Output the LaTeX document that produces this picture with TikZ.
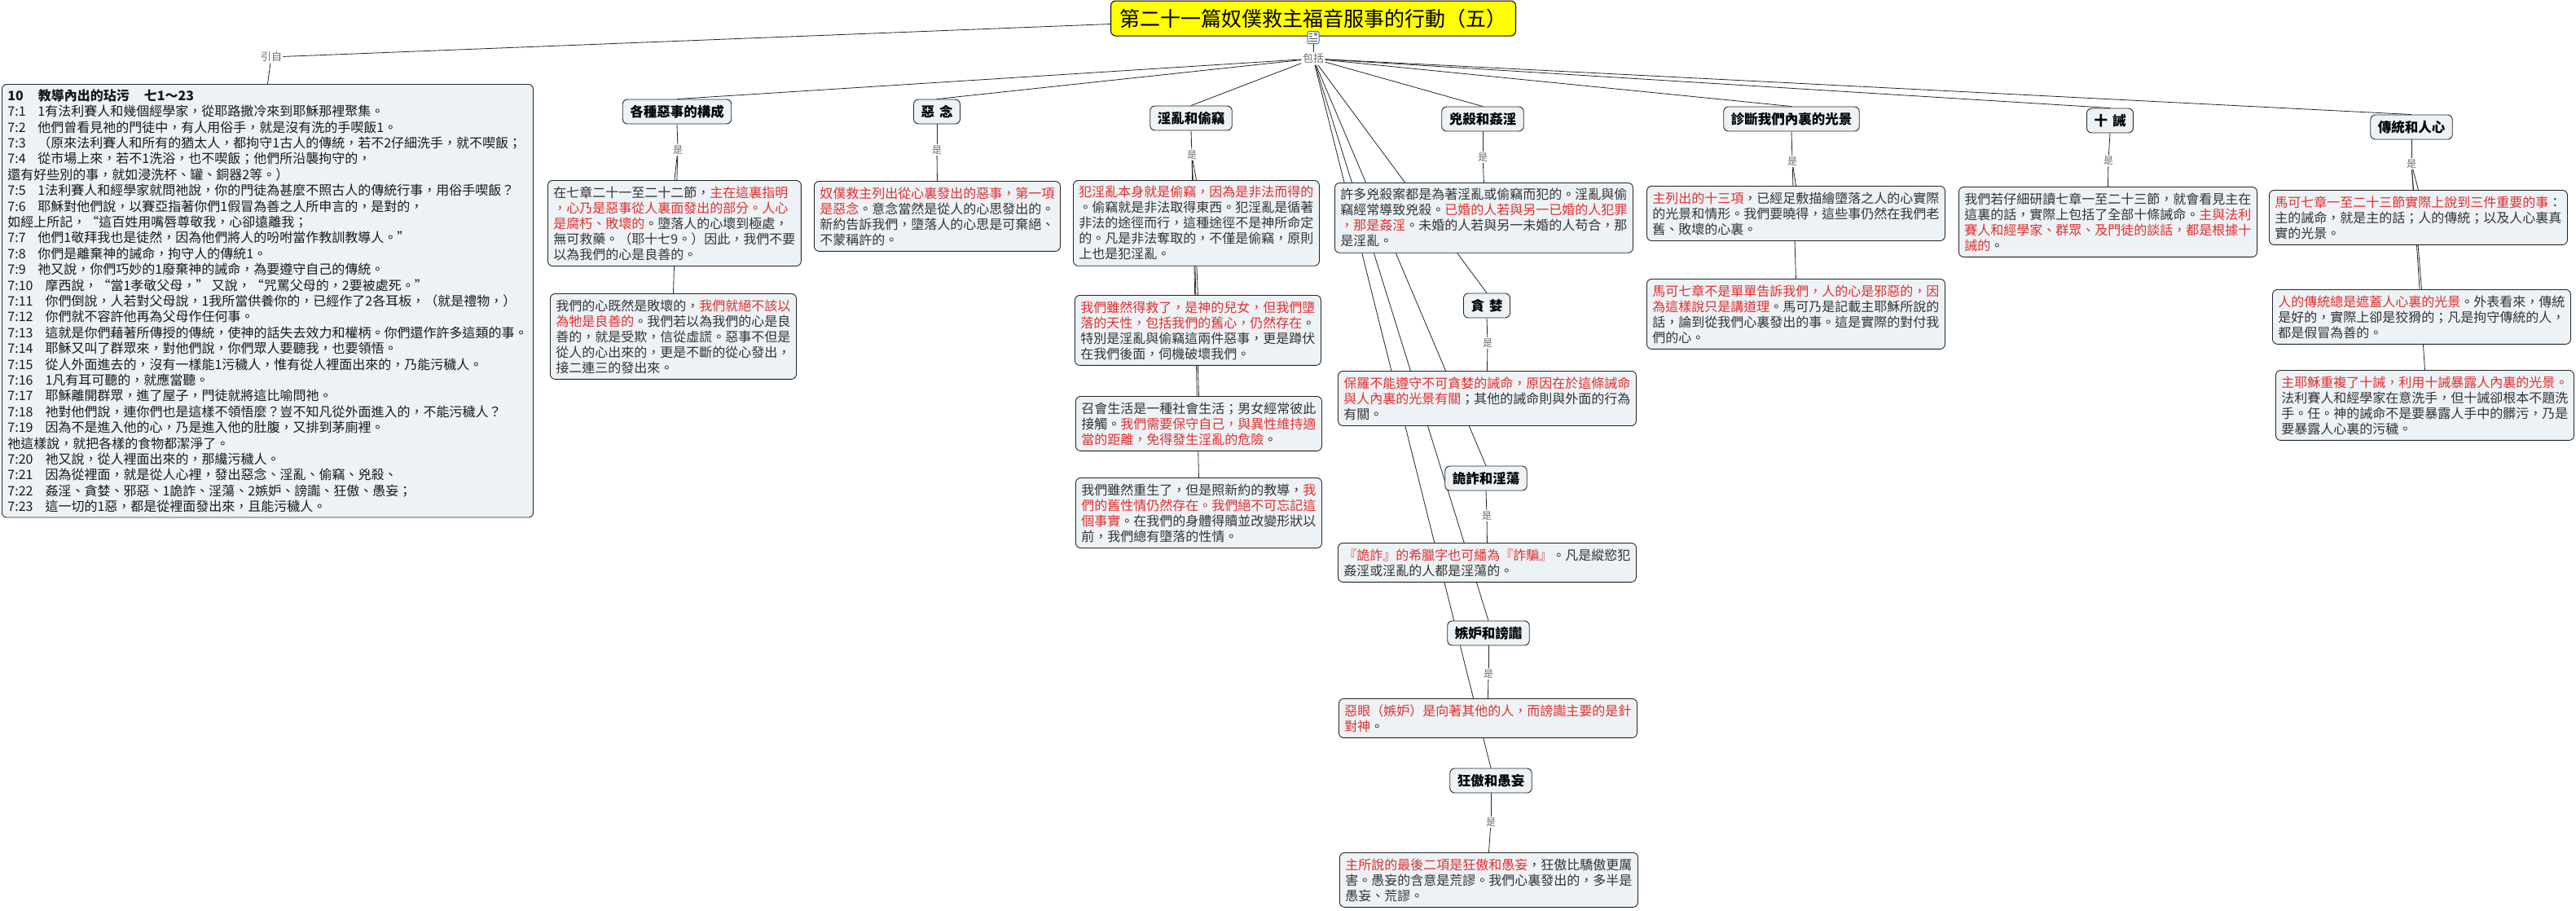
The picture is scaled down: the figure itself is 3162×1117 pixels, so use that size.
\documentclass[tikz,border=0pt]{standalone}
\usepackage{fontspec}
\setmainfont{Noto Sans CJK TC}
\usetikzlibrary{backgrounds}
\definecolor{boxfill}{RGB}{236,242,245}
\definecolor{redtxt}{RGB}{226,46,46}
\definecolor{txt}{RGB}{51,51,51}
\definecolor{lblgray}{RGB}{110,110,110}
\definecolor{titleyellow}{RGB}{255,255,0}
\definecolor{iconblue}{RGB}{60,110,190}
\newcommand{\rd}[1]{\textcolor{redtxt}{#1}}
\newcommand{\vs}[1]{\makebox[0pt][l]{#1}\hspace{37pt}}
\newcommand{\vt}[1]{#1\hspace{15pt}}
\tikzset{
  box/.style={draw=black!85, line width=0.9pt, rounded corners=6pt, fill=boxfill, align=left,
    inner xsep=7pt, inner ysep=7pt, font=\fontsize{16}{19}\selectfont, text=txt, anchor=north west},
  hdr/.style={draw=black!85, line width=0.9pt, rounded corners=6pt, fill=boxfill,
    font=\fontsize{16.5}{19}\selectfont\bfseries, text=black, inner xsep=9pt, minimum height=30pt},
  lbl/.style={font=\fontsize{12}{14}\selectfont, text=lblgray, inner sep=1.5pt},
  conn/.style={draw=black!85, line width=0.8pt},
}
\begin{document}
\begin{tikzpicture}[x=1pt,y=-1pt]
\useasboundingbox (0,0) rectangle (3162,1117);
% title and hub
\node[draw=black, line width=1pt, rounded corners=6pt, fill=titleyellow, font=\fontsize{25}{28}\selectfont,
  minimum height=43pt, inner xsep=11pt] (title) at (1612,22.5) {第二十一篇奴僕救主福音服事的行動（五）};
\node[draw=iconblue, line width=1pt, fill=white, rounded corners=2pt, minimum width=14pt, minimum height=15pt, inner sep=0pt] (icon) at (1612,46) {};
\fill[iconblue!70] (1613,40) rectangle (1617,44);
\draw[black!70, line width=0.7pt] (1607,41)--(1611,41) (1607,44)--(1611,44) (1607,47)--(1617,47) (1607,50)--(1617,50);
\node[lbl, font=\fontsize{13}{15}\selectfont] (bk) at (1612,72) {包括};
\node[lbl, font=\fontsize{13}{15}\selectfont] (yz) at (333,70) {引自};

% left scripture box
\node[box, inner ysep=6pt, font=\fontsize{16}{19.4}\selectfont, text=black!90, minimum width=649pt] (lbox) at (2,103) {%
\textbf{10\hspace{18pt}教導內出的玷污\hspace{18pt}七1～23}\\
\vs{7:1}1有法利賽人和幾個經學家，從耶路撒冷來到耶穌那裡聚集。\\
\vs{7:2}他們曾看見祂的門徒中，有人用俗手，就是沒有洗的手喫飯1。\\
\vs{7:3}（原來法利賽人和所有的猶太人，都拘守1古人的傳統，若不2仔細洗手，就不喫飯；\\
\vs{7:4}從市場上來，若不1洗浴，也不喫飯；他們所沿襲拘守的，\\
還有好些別的事，就如浸洗杯、罐、銅器2等。）\\
\vs{7:5}1法利賽人和經學家就問祂說，你的門徒為甚麼不照古人的傳統行事，用俗手喫飯？\\
\vs{7:6}耶穌對他們說，以賽亞指著你們1假冒為善之人所申言的，是對的，\\
如經上所記，“這百姓用嘴唇尊敬我，心卻遠離我；\\
\vs{7:7}他們1敬拜我也是徒然，因為他們將人的吩咐當作教訓教導人。”\\
\vs{7:8}你們是離棄神的誡命，拘守人的傳統1。\\
\vs{7:9}祂又說，你們巧妙的1廢棄神的誡命，為要遵守自己的傳統。\\
\vt{7:10}摩西說，“當1孝敬父母，” 又說，“咒罵父母的，2要被處死。”\\
\vt{7:11}你們倒說，人若對父母說，1我所當供養你的，已經作了2各耳板，（就是禮物，）\\
\vt{7:12}你們就不容許他再為父母作任何事。\\
\vt{7:13}這就是你們藉著所傳授的傳統，使神的話失去效力和權柄。你們還作許多這類的事。\\
\vt{7:14}耶穌又叫了群眾來，對他們說，你們眾人要聽我，也要領悟。\\
\vt{7:15}從人外面進去的，沒有一樣能1污穢人，惟有從人裡面出來的，乃能污穢人。\\
\vt{7:16}1凡有耳可聽的，就應當聽。\\
\vt{7:17}耶穌離開群眾，進了屋子，門徒就將這比喻問祂。\\
\vt{7:18}祂對他們說，連你們也是這樣不領悟麼？豈不知凡從外面進入的，不能污穢人？\\
\vt{7:19}因為不是進入他的心，乃是進入他的肚腹，又排到茅廁裡。\\
祂這樣說，就把各樣的食物都潔淨了。\\
\vt{7:20}祂又說，從人裡面出來的，那纔污穢人。\\
\vt{7:21}因為從裡面，就是從人心裡，發出惡念、淫亂、偷竊、兇殺、\\
\vt{7:22}姦淫、貪婪、邪惡、1詭詐、淫蕩、2嫉妒、謗讟、狂傲、愚妄；\\
\vt{7:23}這一切的1惡，都是從裡面發出來，且能污穢人。};

% headers
\node[hdr] (h1) at (831,137) {各種惡事的構成};
\node[hdr] (h2) at (1150,137) {惡\hspace{6pt}念};
\node[hdr] (h3) at (1462,145) {淫亂和偷竊};
\node[hdr] (h4) at (1820,146) {兇殺和姦淫};
\node[hdr] (h5) at (2199,146) {診斷我們內裏的光景};
\node[hdr] (h6) at (2590,148) {十\hspace{6pt}誡};
\node[hdr] (h7) at (2960,156) {傳統和人心};
\node[hdr] (h8) at (1825,375) {貪\hspace{6pt}婪};
\node[hdr] (h9) at (1824,587) {詭詐和淫蕩};
\node[hdr] (h10) at (1827,777) {嫉妒和謗讟};
\node[hdr] (h11) at (1830,958) {狂傲和愚妄};

% "是" labels
\node[lbl] (s1) at (832,184) {是};
\node[lbl] (s2) at (1150,184) {是};
\node[lbl] (s3) at (1463,190) {是};
\node[lbl] (s4) at (1820,193) {是};
\node[lbl] (s5) at (2200,198) {是};
\node[lbl] (s6) at (2588,197) {是};
\node[lbl] (s7) at (2960,201) {是};
\node[lbl] (s8) at (1826,421) {是};
\node[lbl] (s9) at (1825,633) {是};
\node[lbl] (s10) at (1827,827) {是};
\node[lbl] (s11) at (1830,1009) {是};

% content boxes
\node[box] (c1a) at (672,221) {在七章二十一至二十二節，\rd{主在這裏指明}\\
\rd{，心乃是惡事從人裏面發出的部分。人心}\\
\rd{是腐朽、敗壞的}。墮落人的心壞到極處，\\
無可救藥。（耶十七9。）因此，我們不要\\
以為我們的心是良善的。};
\node[box] (c1b) at (675,360) {我們的心既然是敗壞的，\rd{我們就絕不該以}\\
\rd{為牠是良善的}。我們若以為我們的心是良\\
善的，就是受欺，信從虛謊。惡事不但是\\
從人的心出來的，更是不斷的從心發出，\\
接二連三的發出來。};
\node[box] (c2a) at (999,222) {\rd{奴僕救主列出從心裏發出的惡事，第一項}\\
\rd{是惡念}。意念當然是從人的心思發出的。\\
新約告訴我們，墮落人的心思是可棄絕、\\
不蒙稱許的。};
\node[box] (c3a) at (1317,221) {\rd{犯淫亂本身就是偷竊，因為是非法而得的}\\
。偷竊就是非法取得東西。犯淫亂是循著\\
非法的途徑而行，這種途徑不是神所命定\\
的。凡是非法奪取的，不僅是偷竊，原則\\
上也是犯淫亂。};
\node[box] (c3b) at (1319,362) {\rd{我們雖然得救了，是神的兒女，但我們墮}\\
\rd{落的天性，包括我們的舊心，仍然存在}。\\
特別是淫亂與偷竊這兩件惡事，更是蹲伏\\
在我們後面，伺機破壞我們。};
\node[box] (c3c) at (1320,486) {召會生活是一種社會生活；男女經常彼此\\
接觸。\rd{我們需要保守自己，與異性維持適}\\
\rd{當的距離，免得發生淫亂的危險}。};
\node[box] (c3d) at (1320,586) {我們雖然重生了，但是照新約的教導，\rd{我}\\
\rd{們的舊性情仍然存在。我們絕不可忘記這}\\
\rd{個事實}。在我們的身體得贖並改變形狀以\\
前，我們總有墮落的性情。};
\node[box] (c4a) at (1638,224) {許多兇殺案都是為著淫亂或偷竊而犯的。淫亂與偷\\
竊經常導致兇殺。\rd{已婚的人若與另一已婚的人犯罪}\\
\rd{，那是姦淫}。未婚的人若與另一未婚的人苟合，那\\
是淫亂。};
\node[box] (c8a) at (1642,455) {\rd{保羅不能遵守不可貪婪的誡命，原因在於這條誡命}\\
\rd{與人內裏的光景有關}；其他的誡命則與外面的行為\\
有關。};
\node[box] (c9a) at (1642,666) {\rd{『詭詐』的希臘字也可繙為『詐騙』}。凡是縱慾犯\\
姦淫或淫亂的人都是淫蕩的。};
\node[box] (c10a) at (1643,857) {\rd{惡眼（嫉妒）是向著其他的人，而謗讟主要的是針}\\
\rd{對神}。};
\node[box] (c11a) at (1644,1046) {\rd{主所說的最後二項是狂傲和愚妄}，狂傲比驕傲更厲\\
害。愚妄的含意是荒謬。我們心裏發出的，多半是\\
愚妄、荒謬。};
\node[box] (c5a) at (2021,228) {\rd{主列出的十三項}，已經足敷描繪墮落之人的心實際\\
的光景和情形。我們要曉得，這些事仍然在我們老\\
舊、敗壞的心裏。};
\node[box] (c5b) at (2021,342) {\rd{馬可七章不是單單告訴我們，人的心是邪惡的，因}\\
\rd{為這樣說只是講道理}。馬可乃是記載主耶穌所說的\\
話，論到從我們心裏發出的事。這是實際的對付我\\
們的心。};
\node[box] (c6a) at (2404,229) {我們若仔細研讀七章一至二十三節，就會看見主在\\
這裏的話，實際上包括了全部十條誡命。\rd{主與法利}\\
\rd{賽人和經學家、群眾、及門徒的談話，都是根據十}\\
\rd{誡的}。};
\node[box] (c7a) at (2785,233) {\rd{馬可七章一至二十三節實際上說到三件重要的事}：\\
主的誡命，就是主的話；人的傳統；以及人心裏真\\
實的光景。};
\node[box] (c7b) at (2789,355) {\rd{人的傳統總是遮蓋人心裏的光景}。外表看來，傳統\\
是好的，實際上卻是狡猾的；凡是拘守傳統的人，\\
都是假冒為善的。};
\node[box] (c7c) at (2793,454) {\rd{主耶穌重複了十誡，利用十誡暴露人內裏的光景。}\\
法利賽人和經學家在意洗手，但十誡卻根本不題洗\\
手。任。神的誡命不是要暴露人手中的髒污，乃是\\
要暴露人心裏的污穢。};

% connectors behind everything
\begin{scope}[on background layer]
\fill[white] (0,0) rectangle (3162,1117);
\draw[conn] ([yshift=-7pt]title.west) -- (yz);
\draw[conn] (yz) -- (lbox.north);
\draw[conn] (title.south) -- (icon) -- (bk);
\foreach \h in {h1,h2,h3,h4,h5,h6,h7,h8,h9,h10,h11} {\draw[conn] (bk) -- (\h.north);}
\draw[conn] (h1.south) -- (s1); \draw[conn] (s1) -- (c1a.north); \draw[conn] (s1) -- (c1b.north);
\draw[conn] (h2.south) -- (s2); \draw[conn] (s2) -- (c2a.north);
\draw[conn] (h3.south) -- (s3);
\foreach \c in {c3a,c3b,c3c,c3d} {\draw[conn] (s3) -- (\c.north);}
\draw[conn] (h4.south) -- (s4); \draw[conn] (s4) -- (c4a.north);
\draw[conn] (h5.south) -- (s5); \draw[conn] (s5) -- (c5a.north); \draw[conn] (s5) -- (c5b.north);
\draw[conn] (h6.south) -- (s6); \draw[conn] (s6) -- (c6a.north);
\draw[conn] (h7.south) -- (s7);
\foreach \c in {c7a,c7b,c7c} {\draw[conn] (s7) -- (\c.north);}
\draw[conn] (h8.south) -- (s8); \draw[conn] (s8) -- (c8a.north);
\draw[conn] (h9.south) -- (s9); \draw[conn] (s9) -- (c9a.north);
\draw[conn] (h10.south) -- (s10); \draw[conn] (s10) -- (c10a.north);
\draw[conn] (h11.south) -- (s11); \draw[conn] (s11) -- (c11a.north);
\end{scope}
\end{tikzpicture}
\end{document}
